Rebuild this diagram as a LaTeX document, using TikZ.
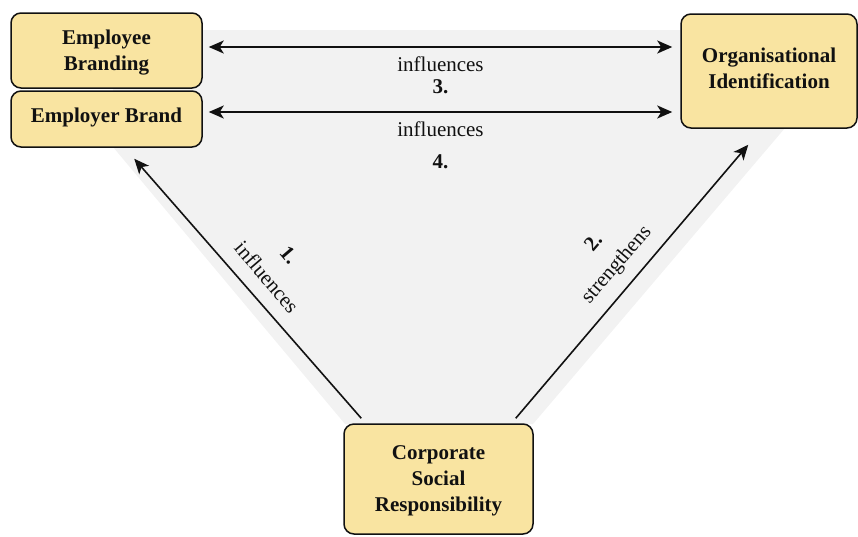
\documentclass[tikz,border=0pt]{standalone}
\usepackage{fontspec}
\setmainfont{Liberation Serif}
\usetikzlibrary{arrows.meta,calc}
\definecolor{boxfill}{HTML}{F9E4A1}
\definecolor{panel}{HTML}{F2F2F2}
\definecolor{ink}{HTML}{111111}

\begin{document}
\begin{tikzpicture}[x=1pt,y=-1pt,
  concept/.style={draw=ink, line width=1.5pt, fill=boxfill, rounded corners=10pt,
    inner sep=0pt},
  ctext/.style={align=center, inner sep=0pt, text=ink,
    font=\fontsize{21}{26}\selectfont\bfseries},
  link/.style={draw=ink, line width=1.6pt, -{Stealth[length=15pt,width=13pt,inset=4pt]}},
  biarrow/.style={draw=ink, line width=2pt,
    {Stealth[length=15pt,width=13pt,inset=4pt]}-{Stealth[length=15pt,width=13pt,inset=4pt]}},
  lbl/.style={inner sep=0pt, text=ink, font=\fontsize{21}{24}\selectfont},
  num/.style={inner sep=0pt, text=ink, font=\fontsize{21}{24}\selectfont\bfseries}]

\useasboundingbox (0,0) rectangle (858,536);

% shaded backdrop behind the relations
\fill[panel] (113,147) -- (113,30) -- (785,30) -- (785,128) -- (533,424) -- (345,424) -- cycle;

% concepts
\node[concept, minimum width=191pt, minimum height=75pt,
  label={[ctext, yshift=-2.5pt]center:Employee\\Branding}] (ebr) at (106.5,50.5) {};
\node[concept, minimum width=191pt, minimum height=56pt,
  label={[ctext, yshift=2pt]center:Employer Brand}] (ebd) at (106.5,119) {};
\node[concept, minimum width=176pt, minimum height=114pt,
  label={[ctext, yshift=3pt]center:Organisational\\Identification}] (oi) at (769,71) {};
\node[concept, minimum width=189pt, minimum height=110pt,
  label={[ctext, yshift=-1.5pt]center:Corporate\\Social\\Responsibility}] (csr) at (438.5,479) {};

% relations
\draw[biarrow] ($(ebr.east |- 0,47)+(6,0)$) -- ($(oi.west |- 0,47)+(-8,0)$);
\draw[biarrow] ($(ebd.east |- 0,112)+(6,0)$) -- ($(oi.west |- 0,112)+(-8,0)$);
\draw[link] ($(csr.north west)+(18,-5)$) -- ($(ebd.south west)+(124,11)$);
\draw[link] ($(csr.north east)+(-18,-5)$) -- ($(oi.south west)+(68,16)$);

% relation labels
\node[lbl] (l3) at (440.5,64) {influences};
\node[num] (n3) at (440.5,87) {3.};
\node[lbl] (l4) at (440.5,129) {influences};
\node[num] (n4) at (440.5,162) {4.};
\node[num, rotate=-49.4] (n1) at (289,255) {1.};
\node[lbl, rotate=-49.4] (l1) at (267,277) {influences};
\node[num, rotate=49.4] (n2) at (593,242) {2.};
\node[lbl, rotate=49.4] (l2) at (617,265) {strengthens};

\end{tikzpicture}
\end{document}
